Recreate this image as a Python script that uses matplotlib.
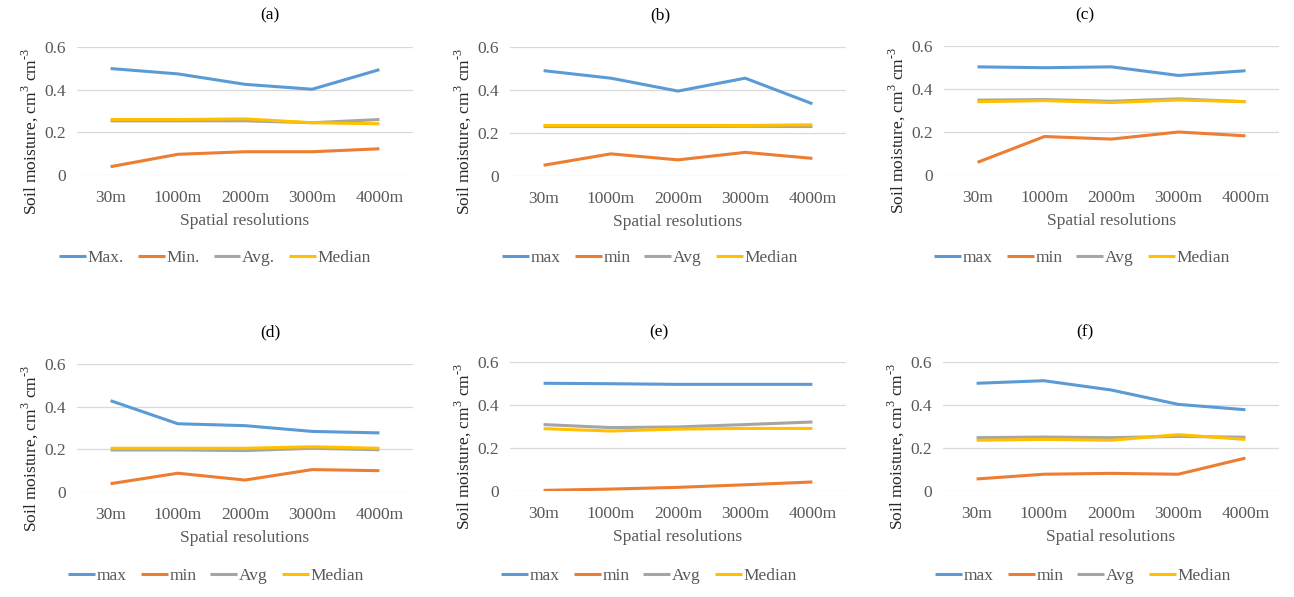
import matplotlib
matplotlib.use("Agg")
import matplotlib.pyplot as plt

plt.rcParams['font.family'] = ['Liberation Serif', 'DejaVu Serif']
plt.rcParams['mathtext.fontset'] = 'custom'
plt.rcParams['mathtext.rm'] = 'Liberation Serif'

categories = ["30m", "1000m", "2000m", "3000m", "4000m"]

a_max = [0.499, 0.474, 0.425, 0.402, 0.494]
a_min = [0.039, 0.097, 0.109, 0.109, 0.123]
a_avg = [0.254, 0.254, 0.254, 0.245, 0.260]
a_med = [0.260, 0.260, 0.263, 0.245, 0.240]

b_max = [0.490, 0.455, 0.395, 0.455, 0.336]
b_min = [0.050, 0.103, 0.075, 0.110, 0.082]
b_avg = [0.230, 0.230, 0.230, 0.231, 0.230]
b_med = [0.235, 0.235, 0.235, 0.235, 0.238]

c_max = [0.503, 0.499, 0.503, 0.463, 0.485]
c_min = [0.059, 0.179, 0.167, 0.200, 0.182]
c_avg = [0.348, 0.351, 0.343, 0.354, 0.341]
c_med = [0.341, 0.346, 0.337, 0.349, 0.341]

d_max = [0.428, 0.320, 0.311, 0.284, 0.277]
d_min = [0.039, 0.088, 0.056, 0.105, 0.100]
d_avg = [0.197, 0.197, 0.194, 0.205, 0.198]
d_med = [0.205, 0.205, 0.205, 0.212, 0.205]

e_max = [0.501, 0.499, 0.496, 0.496, 0.496]
e_min = [0.003, 0.009, 0.017, 0.029, 0.042]
e_avg = [0.309, 0.295, 0.298, 0.309, 0.321]
e_med = [0.290, 0.279, 0.288, 0.291, 0.291]

f_max = [0.501, 0.513, 0.470, 0.403, 0.378]
f_min = [0.056, 0.078, 0.082, 0.078, 0.153]
f_avg = [0.248, 0.251, 0.248, 0.254, 0.250]
f_med = [0.236, 0.240, 0.236, 0.262, 0.240]

titles = ["(a)", "(b)", "(c)", "(d)", "(e)", "(f)"]
labels_a = ["Max.", "Min.", "Avg.", "Median"]
labels_other = ["max", "min", "Avg", "Median"]
yticks = [0, 0.2, 0.4, 0.6]
ytick_labels = ["0", "0.2", "0.4", "0.6"]

colors = ["#5B9BD5", "#ED7D31", "#A5A5A5", "#FFC000"]

panels = [
    (a_max, a_min, a_avg, a_med),
    (b_max, b_min, b_avg, b_med),
    (c_max, c_min, c_avg, c_med),
    (d_max, d_min, d_avg, d_med),
    (e_max, e_min, e_avg, e_med),
    (f_max, f_min, f_avg, f_med),
]

W, H = 1294, 597
fig = plt.figure(figsize=(W / 100, H / 100), dpi=100)

# pixel boxes: left, right, top, bottom
boxes = [
    (77, 413, 47, 175),
    (510, 846, 47, 176),
    (944, 1279, 46, 175),
    (77, 413, 364, 492),
    (510, 846, 362, 491),
    (943, 1279, 362, 491),
]
title_pos = [(270, 15), (660, 15), (1085, 15), (270, 332), (659, 332), (1085, 332)]
leg_center = [(215, 258), (650, 258), (1082, 258), (216, 576), (649, 576), (1083, 576)]

FS = 12.5
tick_col = "#595959"
ylab = "Soil moisture, cm$^{3}$ cm$^{\\text{-}3}$"

for i, (series, box) in enumerate(zip(panels, boxes)):
    l, r, t, b = box
    ax = fig.add_axes([l / W, 1 - b / H, (r - l) / W, (b - t) / H])
    x = list(range(len(categories)))
    labs = labels_a if i == 0 else labels_other
    handles = []
    for s, c, lab in zip(series, colors, labs):
        ln, = ax.plot(x, s, color=c, lw=2.2, solid_capstyle='butt', label=lab)
        handles.append(ln)
    ax.set_xlim(-0.5, 4.5)
    ax.set_ylim(0, 0.6)
    ax.set_yticks(yticks)
    ax.set_yticklabels(ytick_labels)
    ax.set_xticks(x)
    ax.set_xticklabels(categories)
    ax.grid(axis='y', color='#D9D9D9', lw=0.9)
    ax.set_axisbelow(True)
    for sp in ax.spines.values():
        sp.set_visible(False)
    ax.tick_params(axis='both', length=0, labelsize=FS, labelcolor=tick_col)
    ax.tick_params(axis='y', pad=8)
    ax.tick_params(axis='x', pad=11)
    ax.set_xlabel("Spatial resolutions", fontsize=FS, color=tick_col, labelpad=5)
    cx = l - 47
    cy = (t + b) / 2 + 20
    fig.text(cx / W, 1 - cy / H, ylab, rotation=90,
             ha='center', va='center', fontsize=FS, color="#262626")
    tx, ty = title_pos[i]
    fig.text(tx / W, 1 - ty / H, titles[i], ha='center', va='center', fontsize=FS, color='black')
    lx, ly = leg_center[i]
    leg = fig.legend(handles=handles, loc='center', bbox_to_anchor=(lx / W, 1 - ly / H),
                     ncol=4, frameon=False, fontsize=FS, handlelength=1.55,
                     handletextpad=0.1, columnspacing=0.8, borderpad=0, borderaxespad=0)
    for txt in leg.get_texts():
        txt.set_color(tick_col)

fig.savefig("out.png", dpi=100)
